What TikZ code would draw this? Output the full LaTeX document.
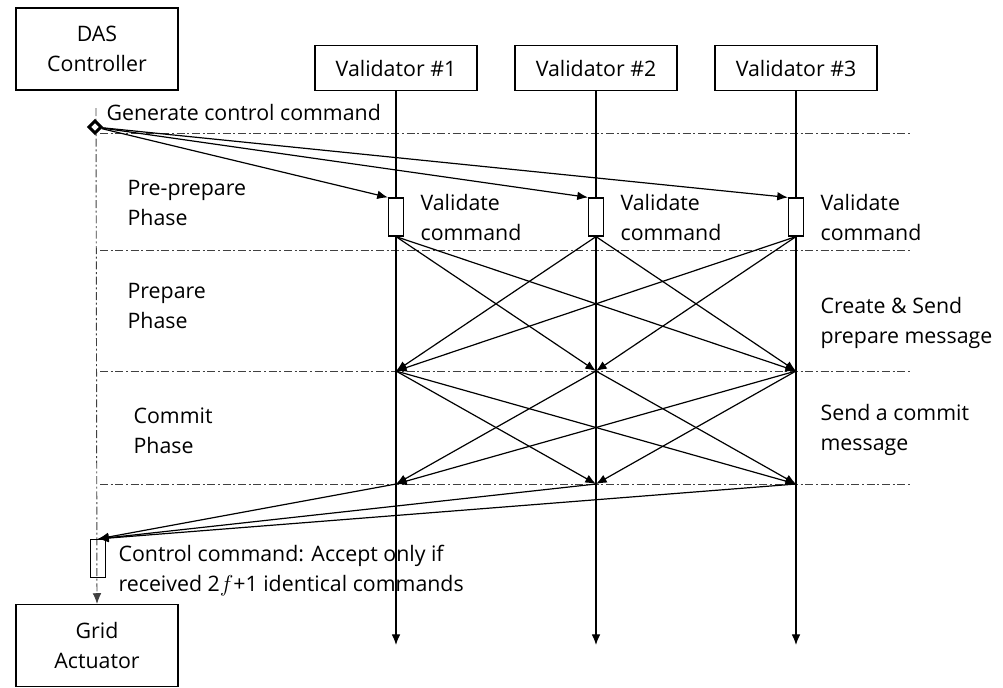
\documentclass[tikz,border=0pt]{standalone}
\usepackage{fontspec}
\setmainfont{Open Sans}
\usetikzlibrary{shapes.geometric, arrows.meta, positioning}

\tikzstyle{actor} = [rectangle, minimum width=121.5pt, minimum height=61.5pt, text centered, align=center, draw=black]
\tikzstyle{validator} = [rectangle, minimum width=121.5pt, minimum height=33.75pt, text centered, draw=black]
\tikzstyle{activation} = [rectangle, minimum width=11.25pt, minimum height=28.5pt, inner sep=0pt, draw=black]
\tikzstyle{start} = [diamond, minimum size=10pt, inner sep=0pt, line width=2.2pt, fill=white, draw=black]
\tikzstyle{note} = [anchor=base west, align=left, inner sep=0pt]
\tikzstyle{arrow} = [-{Latex[length=8pt,width=6.5pt]}]
\tikzstyle{phaseline} = [line width=0.7pt, black!75, dash pattern=on 6pt off 2pt on 1.5pt off 2pt]
\tikzstyle{ctrlline} = [-{Latex[length=8pt,width=6.5pt]}, line width=0.7pt, black!75, dash pattern=on 6pt off 2pt on 1.5pt off 2pt]

\begin{document}
\begin{tikzpicture}[x=0.75pt, y=-0.75pt, line width=0.9pt, font=\fontsize{16}{22.5}\selectfont]
  \useasboundingbox (0,0) rectangle (1003,687);

  \node (das) [actor] at (97,49) {DAS\\Controller};
  \node (grid) [actor] at (97,645.5) {Grid\\Actuator};
  \node (val1) [validator] at (396,68) {Validator \#1};
  \node (val2) [validator] at (596,68) {Validator \#2};
  \node (val3) [validator] at (796,68) {Validator \#3};

  \coordinate (ctrltop) at (96,108);
  \coordinate (p1) at (396,371);
  \coordinate (p2) at (596,371);
  \coordinate (p3) at (796,371);
  \coordinate (c1) at (396,484);
  \coordinate (c2) at (596,484);
  \coordinate (c3) at (796,484);
  \coordinate (e1) at (396,645);
  \coordinate (e2) at (596,645);
  \coordinate (e3) at (796,645);

  \foreach \y in {133,250,371,484}
    \draw [phaseline] (100,\y) -- (912,\y);

  \draw [ctrlline] (ctrltop) -- (grid.north);
  \draw [arrow] (val1) -- (e1);
  \draw [arrow] (val2) -- (e2);
  \draw [arrow] (val3) -- (e3);

  \node (gen) [start] at (95,127) {};
  \node (act1) [activation, fill=white] at (396,217) {};
  \node (act2) [activation, fill=white] at (596,217) {};
  \node (act3) [activation, fill=white] at (796,217) {};
  \node (ctrlact) [activation] at (98,558.5) {};

  \node (gentxt) [note] at (106,120) {Generate control command};
  \node (pretxt) [note] at (127,225) {Pre-prepare\\Phase};
  \node (preptxt) [note] at (127,328) {Prepare\\Phase};
  \node (committxt) [note] at (133,453) {Commit\\Phase};
  \node (valtxt1) [note] at (420,240) {Validate\\command};
  \node (valtxt2) [note] at (620,240) {Validate\\command};
  \node (valtxt3) [note] at (820,240) {Validate\\command};
  \node (sendtxt) [note] at (820,343) {Create \& Send\\prepare message};
  \node (ctxt) [note] at (820,450) {Send a commit\\message};
  \node (acctxt) [note] at (118,591) {Control command: Accept only if\\received 2$f$+1 identical commands};

  \draw [arrow] (gen) -- (act1.north west);
  \draw [arrow] (gen) -- (act2.north west);
  \draw [arrow] (gen) -- (act3.north west);

  \foreach \s/\t in {1/2,1/3,2/1,2/3,3/1,3/2}
    \draw [arrow] (act\s.south) -- (p\t);
  \foreach \s/\t in {1/2,1/3,2/1,2/3,3/1,3/2}
    \draw [arrow] (p\s) -- (c\t);
  \foreach \s in {1,2,3}
    \draw [arrow] (c\s) -- (ctrlact.north);
\end{tikzpicture}
\end{document}
